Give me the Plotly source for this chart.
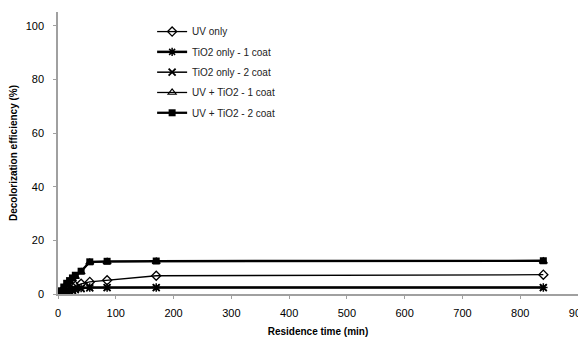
import plotly.graph_objects as go

time_min = [5, 10, 15, 20, 25, 30, 40, 55, 85, 170, 840]
uv_only = [0.5, 1.0, 1.5, 2.0, 2.5, 3.0, 3.8, 4.5, 5.1, 6.8, 7.2]
tio2_1coat = [0.3, 0.6, 1.0, 1.3, 1.6, 1.9, 2.2, 2.4, 2.4, 2.4, 2.4]
tio2_2coat = [0.2, 0.5, 0.8, 1.0, 1.3, 1.6, 2.0, 2.3, 2.4, 2.4, 2.4]
uv_tio2_1coat = [1.0, 2.3, 3.5, 4.6, 5.6, 6.5, 8.2, 11.8, 12.0, 12.1, 12.2]
uv_tio2_2coat = [1.2, 2.6, 4.0, 5.0, 6.0, 7.0, 8.5, 12.0, 12.2, 12.3, 12.4]

series = [
    ("UV only", uv_only, dict(symbol="diamond-open", size=7, color="black", line=dict(width=1.3)), 1.3),
    ("TiO2 only - 1 coat", tio2_1coat, dict(symbol="asterisk-open", size=7, color="black", line=dict(width=1.5, color="black")), 2.5),
    ("TiO2 only - 2 coat", tio2_2coat, dict(symbol="x-thin-open", size=7, color="black", line=dict(width=1.8, color="black")), 1.5),
    ("UV + TiO2 - 1 coat", uv_tio2_1coat, dict(symbol="triangle-up-open", size=7, color="black", line=dict(width=1.2)), 1.3),
    ("UV + TiO2 - 2 coat", uv_tio2_2coat, dict(symbol="square", size=7, color="black"), 2.3),
]

fig = go.Figure()
for i, (name, vals, marker, lw) in enumerate(series):
    fig.add_trace(go.Scatter(
        x=time_min, y=vals, name=name, mode="lines+markers",
        line=dict(color="black", width=lw),
        marker=marker, legendgroup=f"g{i}",
    ))

# page body has an 8px default margin, so the figure is sized to fit inside the window
fig.update_layout(
    width=578, height=329,
    margin=dict(l=50, r=8, t=4, b=43),
    paper_bgcolor="white", plot_bgcolor="white",
    font=dict(family="Liberation Sans, Arial, sans-serif", size=11, color="black"),
    showlegend=True,
    legend=dict(x=0.181, y=0.982, xanchor="left", yanchor="top",
                font=dict(size=10, color="#222"), bgcolor="rgba(0,0,0,0)",
                itemwidth=30, tracegroupgap=1.3),
)
fig.update_xaxes(
    range=[0, 900], tickvals=[0, 100, 200, 300, 400, 500, 600, 700, 800, 900],
    showgrid=False, zeroline=False, showline=True, linecolor="#a0a0a0", linewidth=1.5,
    ticks="outside", ticklen=3, tickcolor="#a0a0a0", ticklabelstandoff=5,
    ticklabeloverflow="allow", automargin=False,
    title=dict(text="<b>Residence time (min)</b>", font=dict(size=10)),
)
fig.update_yaxes(
    range=[0, 105.2], tickvals=[0, 20, 40, 60, 80, 100],
    showgrid=False, zeroline=False, showline=True, linecolor="#a0a0a0", linewidth=1.5,
    ticks="outside", ticklen=3, tickcolor="#a0a0a0", ticklabelstandoff=7,
    automargin=False,
    title=dict(text="<b>Decolorization efficiency (%)</b>", font=dict(size=10)),
)

fig.write_html("out.html")
